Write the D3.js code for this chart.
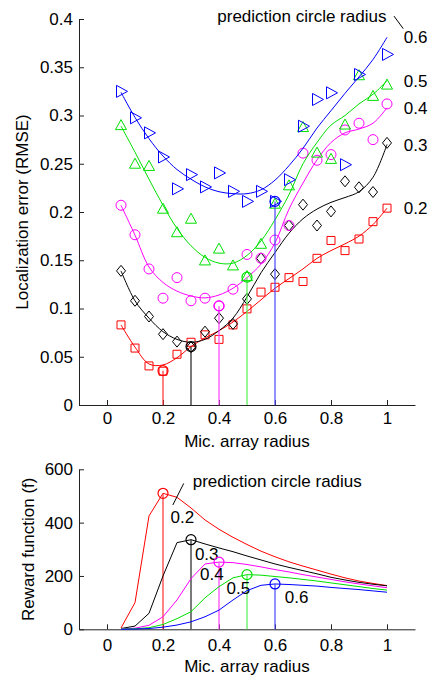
<!DOCTYPE html>
<html><head><meta charset="utf-8">
<script src="https://cdn.jsdelivr.net/npm/d3@7"></script>
<style>body{margin:0;background:#fff}</style>
</head><body><svg id="c" width="431" height="675"></svg>
<script>
// ---------- data ----------
const micRadius = [0.05,0.1,0.15,0.2,0.25,0.3,0.35,0.4,0.45,0.5,0.55,0.6,0.65,0.7,0.75,0.8,0.85,0.9,0.95,1.0];
const predRadius = [0.2,0.3,0.4,0.5,0.6];
const predLabels = ["0.2","0.3","0.4","0.5","0.6"];

// measured RMSE (markers)
const errR02 = [0.083,0.059,0.0405,0.035,0.0526,0.065,0.0727,0.068,0.083,0.0996,0.117,0.122,0.132,0.128,0.152,0.1705,0.160,0.172,0.190,0.204];
const errR03 = [0.139,0.108,0.0917,0.0734,0.0657,0.060,0.076,0.090,0.084,0.110,0.152,0.1356,0.186,0.2076,0.186,0.2006,0.2318,0.2256,0.2207,0.2716];
const errR04 = [0.207,0.1764,0.141,0.1107,0.132,0.108,0.1107,0.1027,0.120,0.156,0.152,0.171,0.186,0.261,0.2536,0.2595,0.285,0.292,0.275,0.312];
const errR05 = [0.289,0.249,0.2467,0.2024,0.178,0.192,0.1488,0.161,0.1436,0.1325,0.166,0.2076,0.2266,0.287,0.2605,0.254,0.2896,0.3407,0.3193,0.331];
const errR06 = [0.325,0.2976,0.282,0.257,0.224,0.2387,0.226,0.2405,0.2214,0.211,0.2214,0.211,0.2335,0.2889,0.3166,0.3235,0.249,0.3425,null,0.3633];

// fitted curves
const fitR02 = [0.083,0.060,0.0425,0.0415,0.049,0.0605,0.0695,0.077,0.086,0.097,0.109,0.121,0.131,0.141,0.152,0.160,0.167,0.175,0.187,0.204];
const fitR03 = [0.139,0.108,0.090,0.076,0.068,0.065,0.068,0.077,0.090,0.112,0.137,0.158,0.178,0.193,0.203,0.210,0.215,0.221,0.236,0.270];
const fitR04 = [0.207,0.176,0.143,0.127,0.118,0.113,0.111,0.114,0.121,0.132,0.146,0.168,0.203,0.230,0.254,0.272,0.282,0.286,0.292,0.308];
const fitR05 = [0.289,0.262,0.234,0.207,0.183,0.165,0.153,0.147,0.147,0.155,0.170,0.192,0.218,0.250,0.272,0.290,0.300,0.312,0.322,0.336];
const fitR06 = [0.324,0.298,0.276,0.258,0.244,0.234,0.226,0.221,0.219,0.219,0.223,0.233,0.248,0.266,0.287,0.305,0.323,0.340,0.358,0.381];

// optimal (minimum) points
const optMic = [0.2,0.3,0.4,0.5,0.6];
const optErr = [0.0356,0.0605,0.1027,0.1325,0.211];

// reward function
const rewR02 = [5,100,425,510,495,455,410,375,345,318,293,272,253,237,222,207,193,181,172,164];
const rewR03 = [3,12,60,200,325,336,320,305,291,275,260,245,232,220,208,195,185,176,169,163];
const rewR04 = [2,4,15,47,110,190,245,252,250,243,234,224,215,205,196,187,178,170,163,156];
const rewR05 = [1,2,6,18,40,66,118,160,193,205,203,198,193,187,181,174,167,160,153,147];
const rewR06 = [0,1,3,8,16,28,47,72,110,145,165,170,168,165,162,157,153,149,144,139];
const optRew = [510,336,252,205,170];

// ticks
const xTicks = [0,0.2,0.4,0.6,0.8,1];
const xTickLabels = ["0","0.2","0.4","0.6","0.8","1"];
const yTicksTop = [0,0.05,0.1,0.15,0.2,0.25,0.3,0.35,0.4];
const yTickLabelsTop = ["0","0.05","0.1","0.15","0.2","0.25","0.3","0.35","0.4"];
const yTicksBot = [0,200,400,600];
const yTickLabelsBot = ["0","200","400","600"];

// ---------- style ----------
const colors = ["#ff0000","#000000","#ff00ff","#00e000","#0000ff"];
const lineColors = ["#ff3030","#202020","#ff40ff","#50f050","#4848ff"];
const FONT = '"Liberation Sans", Arial, Helvetica, sans-serif';
const FS = 17;

const markerPath = {
  square: "M-4,-4H4V4H-4Z",
  diamond: "M0,-5.5L4.5,0L0,5.5L-4.5,0Z",
  circle: "M5,0A5,5 0 1,1 -5,0A5,5 0 1,1 5,0Z",
  triUp: "M0,-6.5L5.5,3.5L-5.5,3.5Z",
  triRight: "M-4.5,-6L6.5,0L-4.5,6Z"
};
const markerKinds = ["square","diamond","circle","triUp","triRight"];

const errSeries = [errR02, errR03, errR04, errR05, errR06];
const fitSeries = [fitR02, fitR03, fitR04, fitR05, fitR06];
const rewSeries = [rewR02, rewR03, rewR04, rewR05, rewR06];

const svg = d3.select("#c");

// ---------- top chart ----------
const x = d3.scaleLinear().domain([-0.1,1.1]).range([79,415]);
const y = d3.scaleLinear().domain([0,0.4]).range([405,19]);

function styleAxis(g){
  g.attr("font-family", FONT).attr("font-size", FS);
  g.select(".domain").attr("stroke","#222");
  g.selectAll(".tick line").attr("stroke","#222");
  g.selectAll(".tick text").attr("fill","#000");
}

svg.append("g").attr("transform",`translate(0,${y(0)})`)
  .call(d3.axisBottom(x).tickValues(xTicks).tickFormat((d,i)=>xTickLabels[i]).tickSize(-5).tickSizeOuter(0).tickPadding(7))
  .call(styleAxis);
svg.append("g").attr("transform",`translate(${x(-0.1)},0)`)
  .call(d3.axisLeft(y).tickValues(yTicksTop).tickFormat((d,i)=>yTickLabelsTop[i]).tickSize(-5).tickSizeOuter(0).tickPadding(6))
  .call(styleAxis);

svg.append("text").attr("x", x(0.5)).attr("y", 446.5).attr("text-anchor","middle")
  .attr("font-family",FONT).attr("font-size",FS).text("Mic. array radius");
svg.append("text").attr("transform",`translate(28,${(y(0)+y(0.4))/2}) rotate(-90)`).attr("text-anchor","middle")
  .attr("font-family",FONT).attr("font-size",FS).text("Localization error (RMSE)");

const fitLine = d3.line().x((d,i)=>x(micRadius[i])).y(d=>y(d)).curve(d3.curveCatmullRom.alpha(0.5));

predRadius.forEach((r,k)=>{
  const g = svg.append("g");
  // vertical optimum line
  g.append("line").attr("x1",x(optMic[k])).attr("x2",x(optMic[k])).attr("y1",y(0)).attr("y2",y(optErr[k]))
    .attr("stroke",lineColors[k]).attr("stroke-width",1.6).attr("opacity",0.75);
  // fitted curve
  g.append("path").datum(fitSeries[k]).attr("d",fitLine).attr("fill","none").attr("stroke",colors[k]).attr("stroke-width",1);
  // markers
  g.selectAll("path.m").data(errSeries[k].map((v,i)=>({v,i})).filter(d=>d.v!=null)).join("path").attr("class","m")
    .attr("d",markerPath[markerKinds[k]])
    .attr("transform",d=>`translate(${x(micRadius[d.i])},${y(d.v)})`)
    .attr("fill","none").attr("stroke",colors[k]).attr("stroke-width",1);
  // optimum circle
  g.append("path").attr("d",markerPath.circle).attr("transform",`translate(${x(optMic[k])},${y(optErr[k])})`)
    .attr("fill","none").attr("stroke",colors[k]).attr("stroke-width",1.2);
  // end label
  g.append("text").attr("x",x(1.06)).attr("y",y(fitSeries[k][fitSeries[k].length-1])).attr("dy","0.36em")
    .attr("font-family",FONT).attr("font-size",FS).text(predLabels[k]);
});
svg.append("text").attr("x",x(0.998)).attr("y",y(0.403)).attr("dy","0.36em").attr("text-anchor","end")
  .attr("font-family",FONT).attr("font-size",FS).text("prediction circle radius");
svg.append("line").attr("x1",x(1.025)).attr("y1",y(0.403)).attr("x2",x(1.058)).attr("y2",y(0.390))
  .attr("stroke","#000").attr("stroke-width",1);

// ---------- bottom chart ----------
const xb = d3.scaleLinear().domain([-0.1,1.1]).range([79,415]);
const yb = d3.scaleLinear().domain([0,600]).range([629.3,469.3]);

svg.append("g").attr("transform",`translate(0,${yb(0)})`)
  .call(d3.axisBottom(xb).tickValues(xTicks).tickFormat((d,i)=>xTickLabels[i]).tickSize(-5).tickSizeOuter(0).tickPadding(10))
  .call(styleAxis);
svg.append("g").attr("transform",`translate(${xb(-0.1)},0)`)
  .call(d3.axisLeft(yb).tickValues(yTicksBot).tickFormat((d,i)=>yTickLabelsBot[i]).tickSize(-5).tickSizeOuter(0).tickPadding(6))
  .call(styleAxis);

svg.append("text").attr("x", xb(0.5)).attr("y", 671.5).attr("text-anchor","middle")
  .attr("font-family",FONT).attr("font-size",FS).text("Mic. array radius");
svg.append("text").attr("transform",`translate(34,${(yb(0)+yb(600))/2}) rotate(-90)`).attr("text-anchor","middle")
  .attr("font-family",FONT).attr("font-size",FS).text("Reward function (f)");

const rewLine = d3.line().x((d,i)=>xb(micRadius[i])).y(d=>yb(d));
const rewLabelPos = [[0.227,422],[0.314,282],[0.332,207],[0.427,154],[0.635,122]];

predRadius.forEach((r,k)=>{
  const g = svg.append("g");
  g.append("path").datum(rewSeries[k]).attr("d",rewLine).attr("fill","none").attr("stroke",colors[k]).attr("stroke-width",1);
  g.append("line").attr("x1",xb(optMic[k])).attr("x2",xb(optMic[k])).attr("y1",yb(0)).attr("y2",yb(optRew[k]))
    .attr("stroke",lineColors[k]).attr("stroke-width",1.4).attr("opacity",0.85);
  g.append("path").attr("d",markerPath.circle).attr("transform",`translate(${xb(optMic[k])},${yb(optRew[k])})`)
    .attr("fill","none").attr("stroke",colors[k]).attr("stroke-width",1.2);
  g.append("text").attr("x",xb(rewLabelPos[k][0])).attr("y",yb(rewLabelPos[k][1])).attr("dy","0.36em")
    .attr("font-family",FONT).attr("font-size",FS).text(predLabels[k]);
});
svg.append("text").attr("x",xb(0.306)).attr("y",yb(556)).attr("dy","0.36em")
  .attr("font-family",FONT).attr("font-size",FS).text("prediction circle radius");
svg.append("line").attr("x1",xb(0.274)).attr("y1",yb(547)).attr("x2",xb(0.235)).attr("y2",yb(466))
  .attr("stroke","#000").attr("stroke-width",1);
</script></body></html>
